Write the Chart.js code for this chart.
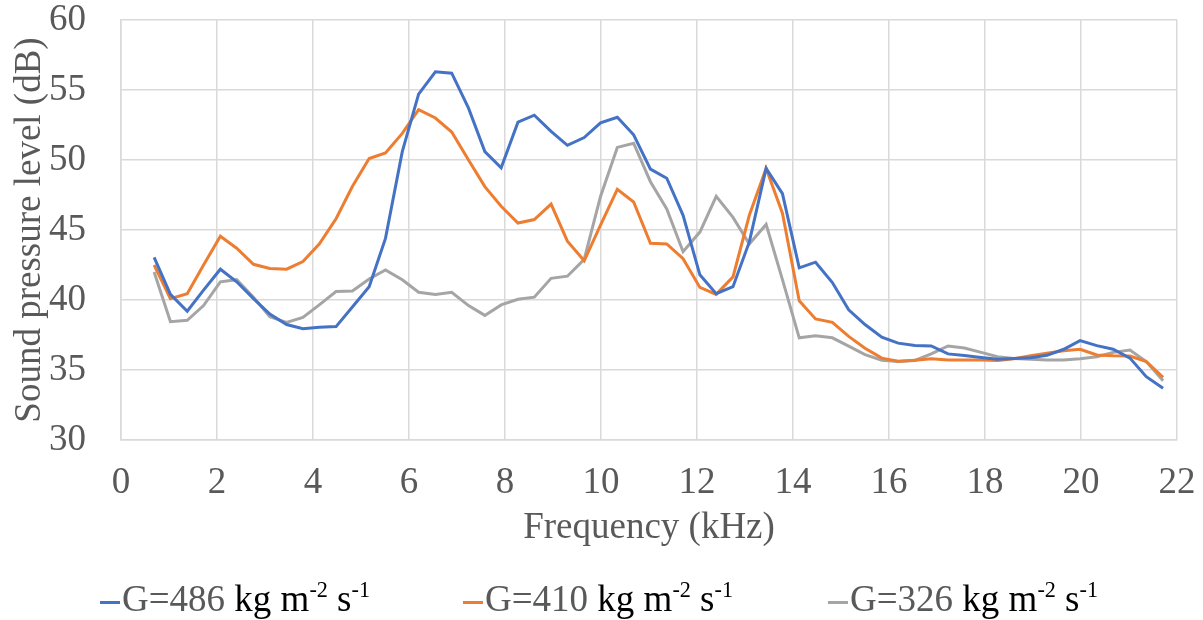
<!DOCTYPE html>
<html><head><meta charset="utf-8">
<script src="https://cdn.jsdelivr.net/npm/chart.js@4"></script>
<style>
html,body{margin:0;padding:0;background:#fff;}
#wrap{position:relative;width:1203px;height:620px;overflow:hidden;}
canvas{position:absolute;left:0;top:0;}
#legend{position:absolute;left:0;top:579px;width:1203px;height:40px;font-family:"Liberation Serif","Times New Roman",serif;font-size:37px;}
.item{position:absolute;top:0;white-space:nowrap;line-height:40px;}
.sw{display:inline-block;width:20px;height:3px;vertical-align:middle;margin-right:2px;}
.g{color:#595959}
.u{color:#000}
sup{font-size:60%;vertical-align:0;position:relative;top:-0.65em;}
</style></head>
<body>
<div id="wrap">
<canvas id="c" width="1203" height="620"></canvas>
<div id="legend"></div>
</div>
<script>
// Frequency bins (kHz)
const freq = [0.69,1.03,1.38,1.72,2.07,2.41,2.76,3.10,3.45,3.79,4.13,4.48,4.82,5.17,5.51,5.86,6.20,6.55,6.89,7.24,7.58,7.92,8.27,8.61,8.96,9.30,9.65,9.99,10.34,10.68,11.03,11.37,11.71,12.06,12.40,12.75,13.09,13.44,13.78,14.13,14.47,14.82,15.16,15.50,15.85,16.19,16.54,16.88,17.23,17.57,17.92,18.26,18.60,18.95,19.29,19.64,19.98,20.33,20.67,21.02,21.36,21.71];
const spl486 = [43.05,40.4,39.2,40.7,42.2,41.3,40.1,39.0,38.25,37.95,38.05,38.1,39.5,40.95,44.4,50.6,54.7,56.3,56.2,53.7,50.6,49.45,52.7,53.2,52.05,51.05,51.6,52.65,53.05,51.8,49.35,48.7,46.05,41.8,40.45,40.95,44.15,49.4,47.6,42.3,42.7,41.25,39.3,38.25,37.35,36.92,36.75,36.72,36.15,36.03,35.9,35.77,35.82,35.88,36.05,36.48,37.1,36.74,36.48,35.85,34.52,33.69];
const spl410 = [42.5,40.1,40.45,42.5,44.55,43.7,42.55,42.25,42.2,42.75,44.0,45.8,48.1,50.1,50.5,51.9,53.6,53.0,52.0,50.0,48.1,46.7,45.5,45.75,46.85,44.2,42.8,45.35,47.9,47.0,44.05,44.0,42.95,40.9,40.4,41.65,46.05,49.4,46.2,39.95,38.65,38.4,37.4,36.55,35.85,35.62,35.7,35.8,35.72,35.72,35.72,35.68,35.8,36.02,36.19,36.38,36.48,36.07,36.02,36.0,35.6,34.48];
const spl326 = [42.0,38.45,38.55,39.6,41.3,41.45,40.2,38.8,38.4,38.75,39.65,40.6,40.65,41.5,42.15,41.45,40.55,40.4,40.55,39.6,38.9,39.65,40.05,40.2,41.55,41.7,42.9,47.4,50.9,51.2,48.45,46.5,43.45,44.85,47.4,45.9,44.0,45.4,41.45,37.3,37.45,37.3,36.7,36.1,35.7,35.6,35.68,36.15,36.72,36.57,36.26,35.95,35.82,35.76,35.72,35.72,35.8,35.95,36.26,36.43,35.6,34.24];
const seriesNames = ['G=486', 'G=410', 'G=326'];
const seriesColors = ['#4472C4', '#ED7D31', '#A5A5A5'];
const xTicks = [0,2,4,6,8,10,12,14,16,18,20,22];
const yTicks = [30,35,40,45,50,55,60];

const FONT = '"Liberation Serif", "Times New Roman", serif';
const FS = 37;
const pts = arr => arr.map((v, i) => ({x: freq[i], y: v}));
const allData = [spl486, spl410, spl326];

new Chart(document.getElementById('c'), {
  type: 'line',
  data: {
    datasets: allData.map((d, i) => ({
      label: seriesNames[i], data: pts(d), borderColor: seriesColors[i],
      backgroundColor: seriesColors[i], borderWidth: 3, pointRadius: 0, tension: 0, fill: false
    }))
  },
  options: {
    responsive: false, animation: false, devicePixelRatio: 1,
    layout: {padding: {left: 0, right: 26, top: 20, bottom: 66}},
    plugins: {legend: {display: false}, tooltip: {enabled: false}},
    scales: {
      x: {
        type: 'linear', min: 0, max: 22,
        afterBuildTicks: s => { s.ticks = xTicks.map(v => ({value: v})); },
        afterFit: s => { s.height = 114; },
        ticks: {color: '#595959', font: {family: FONT, size: FS, lineHeight: 1.2}, padding: 0, maxRotation: 0, autoSkip: false},
        grid: {color: '#d9d9d9', lineWidth: 1.5, drawTicks: true, tickLength: 21, tickColor: 'rgba(0,0,0,0)'},
        border: {color: '#d9d9d9', width: 1.5},
        title: {display: true, text: 'Frequency (kHz)', color: '#595959', font: {family: FONT, size: FS}, padding: {top: 4, bottom: 4}}
      },
      y: {
        min: 30, max: 60,
        afterBuildTicks: s => { s.ticks = yTicks.map(v => ({value: v})); },
        afterFit: s => { s.width = 121; },
        ticks: {color: '#595959', font: {family: FONT, size: FS, lineHeight: 1}, padding: 1},
        grid: {color: '#d9d9d9', lineWidth: 1.5, drawTicks: true, tickLength: 34, tickColor: 'rgba(0,0,0,0)'},
        border: {color: '#d9d9d9', width: 1.5},
        title: {display: true, text: 'Sound pressure level (dB)', color: '#595959', font: {family: FONT, size: FS, lineHeight: 1}, padding: {top: 12, bottom: 0}}
      }
    }
  }
});

// Legend
const legendX = [100, 463, 828];
const lg = document.getElementById('legend');
seriesNames.forEach((n, i) => {
  const d = document.createElement('div');
  d.className = 'item';
  d.style.left = legendX[i] + 'px';
  d.innerHTML = '<span class="sw" style="background:' + seriesColors[i] + '"></span><span class="g">' + n + '</span> <span class="u">kg m<sup>-2</sup> s<sup>-1</sup></span>';
  lg.appendChild(d);
});
</script>
</body></html>
